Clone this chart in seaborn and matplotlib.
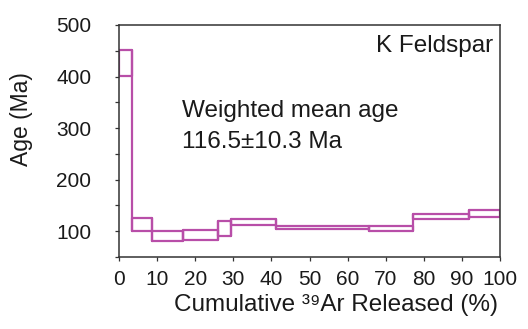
import numpy as np
import pandas as pd
import matplotlib
matplotlib.use("Agg")
import matplotlib.pyplot as plt
import seaborn as sns

# Step boundaries (cumulative 39Ar released, %)
step_start = [0, 3.4, 8.7, 16.9, 26.0, 29.4, 41.2, 65.7, 77.2, 91.9]
step_end = [3.4, 8.7, 16.9, 26.0, 29.4, 41.2, 65.7, 77.2, 91.9, 100]
# Apparent age envelope (Ma) for each step
age_high = [451, 125, 101, 102, 120, 124, 111, 110, 133, 141]
age_low = [401, 101, 82, 83, 90, 113, 104, 101, 124, 128]

x_ticks = [0, 10, 20, 30, 40, 50, 60, 70, 80, 90, 100]
y_ticks = [100, 200, 300, 400, 500]
y_minor = [50, 150, 250, 350, 450]

sample_label = "K Feldspar"
mean_label_1 = "Weighted mean age"
mean_label_2 = "116.5\u00b110.3 Ma"
x_label = "Cumulative \u00b3\u2079Ar Released (%)"
y_label = "Age (Ma)"

sns.set_style("white")
plt.rcParams['font.family'] = ['Liberation Sans', 'DejaVu Sans']

# build closed rectangle outlines for each step, plus vertical connectors
rows = []
unit = 0
for x0, x1, lo, hi in zip(step_start, step_end, age_low, age_high):
    for order, (xx, yy) in enumerate([(x0, lo), (x0, hi), (x1, hi), (x1, lo), (x0, lo)]):
        rows.append({"unit": unit, "order": order, "x": xx, "y": yy})
    unit += 1
for i in range(len(step_start) - 1):
    xb = step_end[i]
    lo = min(age_low[i], age_low[i + 1])
    hi = max(age_high[i], age_high[i + 1])
    rows.append({"unit": unit, "order": 0, "x": xb, "y": lo})
    rows.append({"unit": unit, "order": 1, "x": xb, "y": hi})
    unit += 1
df = pd.DataFrame(rows)

fig = plt.figure(figsize=(5.28, 3.29), dpi=100)
ax = fig.add_axes([119 / 528, 1 - 257 / 329, 381 / 528, 232 / 329])

color = "#b84ea8"
sns.lineplot(data=df, x="x", y="y", units="unit", estimator=None, sort=False,
             color=color, linewidth=1.6, ax=ax, legend=False)

ax.set_xlim(0, 100)
ax.set_ylim(50, 500)
ax.set_xticks(x_ticks)
ax.set_yticks(y_ticks)
ax.set_yticks(y_minor, minor=True)

spine_c = "#333333"
for s in ax.spines.values():
    s.set_visible(True)
    s.set_color(spine_c)
    s.set_linewidth(1.1)

ax.tick_params(axis="x", which="both", direction="out", length=3, width=0.9,
               colors=spine_c, labelcolor="#1a1a1a", labelsize=15, pad=6.5,
               bottom=True, top=False)
ax.tick_params(axis="y", which="both", direction="out", length=3, width=0.9,
               colors=spine_c, labelcolor="#1a1a1a", labelsize=15, pad=17,
               left=True, right=False)

ax.set_xlabel(x_label, fontsize=17.5, color="#1a1a1a")
ax.xaxis.set_label_coords(0.5696, -0.2328)
ax.xaxis.label.set_va("baseline")
ax.set_ylabel(y_label, fontsize=16.5, color="#1a1a1a")
ax.yaxis.set_label_coords(-0.2554, 0.593)
ax.yaxis.label.set_va("center")

ax.text(0.982, 0.885, sample_label, transform=ax.transAxes, ha="right",
        va="baseline", fontsize=17.5, color="#1a1a1a")
ax.text(0.165, 0.605, mean_label_1, transform=ax.transAxes, ha="left",
        va="baseline", fontsize=17.5, color="#1a1a1a")
ax.text(0.165, 0.469, mean_label_2, transform=ax.transAxes, ha="left",
        va="baseline", fontsize=17.5, color="#1a1a1a")

fig.savefig("out.png", dpi=100)
